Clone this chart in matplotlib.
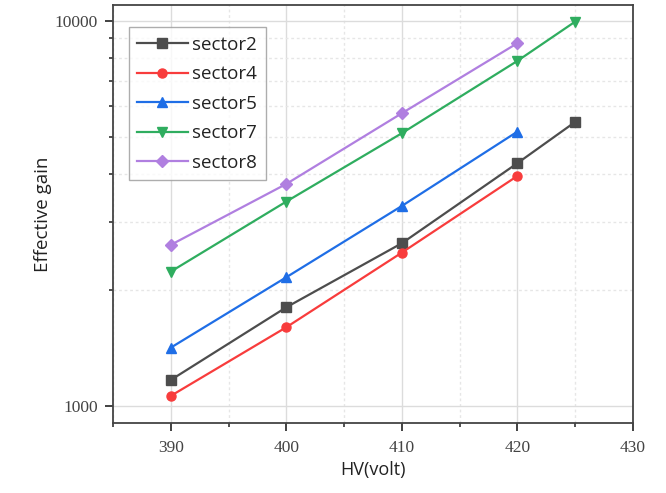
import matplotlib
matplotlib.use("Agg")
import matplotlib.pyplot as plt
from matplotlib.ticker import FixedLocator, LogLocator, NullFormatter, MultipleLocator

hv_a = [390, 400, 410, 420, 425]
hv_b = [390, 400, 410, 420]

sector2 = [1168, 1804, 2646, 4271, 5466]
sector4 = [1062, 1601, 2502, 3957]
sector5 = [1417, 2159, 3307, 5158]
sector7 = [2233, 3395, 5109, 7873, 9958]
sector8 = [2620, 3772, 5757, 8753]

series = [
    ("sector2", hv_a, sector2, "#4d4d4d", "s"),
    ("sector4", hv_b, sector4, "#f83c3c", "o"),
    ("sector5", hv_b, sector5, "#1f6ee6", "^"),
    ("sector7", hv_a, sector7, "#2fad5f", "v"),
    ("sector8", hv_b, sector8, "#b07fe0", "D"),
]

fig = plt.figure(figsize=(6.66, 4.93), dpi=100)
ax = fig.add_axes([0.1697, 0.142, 0.7808, 0.848])

for name, x, y, c, m in series:
    ms = 6.5 if m != "D" else 6
    ax.plot(x, y, color=c, marker=m, markersize=ms, linewidth=1.6, label=name)

ax.set_yscale("log")
ax.set_xlim(385, 430)
ax.set_ylim(903, 11000)

ax.xaxis.set_major_locator(MultipleLocator(10))
ax.xaxis.set_minor_locator(MultipleLocator(5))
ax.yaxis.set_major_locator(FixedLocator([1000, 10000]))
ax.yaxis.set_minor_locator(LogLocator(base=10, subs=range(2, 10)))
ax.yaxis.set_minor_formatter(NullFormatter())
ax.set_yticklabels(["1000", "10000"])

ax.grid(True, which="major", color="#dcdcdc", linewidth=1.0, linestyle="-")
ax.grid(True, which="minor", color="#e6e6e6", linewidth=1.0, linestyle=(0, (2, 2)))
ax.set_axisbelow(True)

for s in ax.spines.values():
    s.set_color("#444444")
    s.set_linewidth(1.3)

ax.tick_params(which="major", direction="out", length=6, width=1.3, color="#333333",
               labelcolor="#444444")
ax.tick_params(axis="x", which="major", pad=6)
ax.tick_params(axis="y", which="major", pad=5)
ax.tick_params(which="minor", direction="out", length=3, width=1.2, color="#333333")
for lbl in ax.get_xticklabels() + ax.get_yticklabels():
    lbl.set_fontfamily("Liberation Serif")
    lbl.set_fontsize(12.5)

ax.set_xlabel("HV(volt)", fontsize=13, fontfamily="Open Sans", color="#222222", labelpad=4)
ax.set_ylabel("Effective gain", fontsize=13.5, fontfamily="Open Sans", color="#222222", labelpad=2)

leg = ax.legend(loc="upper left", bbox_to_anchor=(0.03, 0.947), frameon=True, fancybox=False,
                prop={"family": "Open Sans", "size": 13.5}, handlelength=2.7,
                labelspacing=0.62, borderpad=0.45, handletextpad=0.25, borderaxespad=0)
leg.get_frame().set_edgecolor("#999999")
leg.get_frame().set_linewidth(1.0)
for t in leg.get_texts():
    t.set_color("#222222")

fig.savefig("out.png", dpi=100)
